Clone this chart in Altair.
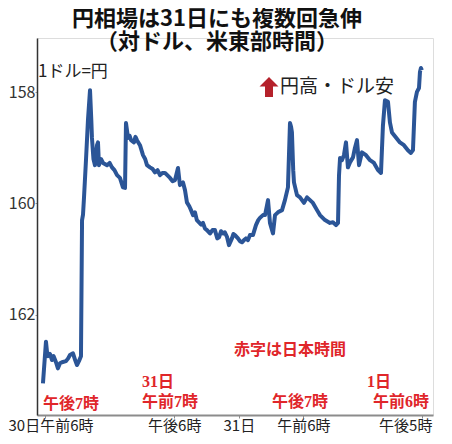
import altair as alt
import pandas as pd

# hours since 30日 0:00 (US Eastern) and USD/JPY rate
hours = [5.81, 6.09, 6.20, 6.28, 6.46, 6.65, 6.80, 7.02, 7.20, 7.39, 7.58, 7.95, 8.15, 8.32, 8.60, 8.80,
         8.97, 9.15, 9.34, 9.44, 9.53, 9.62, 9.81, 9.99, 10.18, 10.30, 10.36, 10.50, 10.64, 10.83, 10.92,
         11.01, 11.20, 11.39, 11.76, 12.00, 12.22, 12.45, 12.69, 12.96, 13.24, 13.43, 13.52, 13.71, 13.85,
         13.99, 14.26, 14.40, 14.54, 14.82, 15.10, 15.30, 15.47, 15.75, 16.00, 16.21, 16.45, 16.68, 16.90,
         17.14, 17.40, 17.61, 17.85, 18.07, 18.35, 18.53, 18.81, 19.00, 19.18, 19.40, 19.56, 19.75, 19.93,
         20.10, 20.30, 20.50, 20.67, 20.85, 21.04, 21.32, 21.55, 21.78, 22.00, 22.16, 22.35, 22.53, 22.70,
         22.90, 23.08, 23.36, 23.50, 23.64, 23.92, 24.10, 24.29, 24.48, 24.66, 24.85, 25.03, 25.31, 25.59,
         25.80, 25.96, 26.24, 26.43, 26.60, 26.71, 26.89, 27.17, 27.36, 27.63, 28.01, 28.28, 28.45, 28.56,
         28.75, 28.85, 28.93, 29.05, 29.12, 29.40, 29.68, 30.05, 30.33, 30.61, 30.88, 31.26, 31.53, 32.00,
         32.46, 32.74, 33.02, 33.21, 33.30, 33.40, 33.57, 33.76, 33.95, 34.13, 34.32, 34.60, 34.78, 34.97,
         35.16, 35.43, 35.81, 36.18, 36.55, 36.92, 37.20, 37.38, 37.57, 37.85, 38.03, 38.22, 38.59, 38.96,
         39.33, 39.70, 39.98, 40.17, 40.35, 40.54, 40.73, 40.82, 40.91, 41.00]
yen = [163.24, 162.49, 162.70, 162.75, 162.71, 162.82, 162.75, 162.86, 162.97, 162.88, 162.86, 162.84,
       162.79, 162.73, 162.70, 162.82, 162.91, 162.84, 162.75, 160.30, 160.20, 159.90, 159.20, 158.50,
       157.96, 158.50, 158.82, 159.20, 159.31, 158.95, 158.90, 159.31, 159.20, 159.27, 159.31, 159.27,
       159.35, 159.40, 159.49, 159.54, 159.71, 159.72, 158.55, 158.82, 158.78, 158.86, 158.90, 158.80,
       158.86, 158.95, 159.13, 159.20, 159.31, 159.35, 159.38, 159.44, 159.40, 159.49, 159.45, 159.45,
       159.50, 159.54, 159.60, 159.58, 159.36, 159.67, 159.62, 159.76, 159.98, 160.05, 160.12, 160.21,
       160.16, 160.30, 160.34, 160.38, 160.35, 160.45, 160.48, 160.54, 160.48, 160.48, 160.63, 160.61,
       160.50, 160.54, 160.52, 160.60, 160.75, 160.63, 160.55, 160.57, 160.63, 160.68, 160.70, 160.66,
       160.63, 160.66, 160.57, 160.57, 160.39, 160.30, 160.26, 160.21, 160.21, 160.05, 159.94, 160.35,
       160.54, 160.21, 160.16, 160.12, 159.94, 159.80, 159.71, 158.55, 158.62, 158.72, 159.40, 159.62,
       159.85, 159.89, 159.99, 159.89, 159.94, 159.99, 160.12, 160.21, 160.30, 160.35, 160.34, 160.39,
       160.35, 159.50, 159.18, 159.22, 159.13, 158.90, 159.35, 159.26, 159.17, 159.00, 158.86, 159.31,
       159.08, 159.13, 159.22, 159.27, 159.40, 159.45, 158.60, 158.14, 158.17, 158.54, 158.72, 158.81,
       158.90, 158.95, 159.04, 159.09, 159.04, 158.17, 157.99, 157.92, 157.63, 157.56, 157.60]

tick_hours = [6, 18, 24, 30, 41]
tick_labels = ["30日午前6時", "午後6時", "31日", "午前6時", "午後5時"]
y_ticks = [158, 160, 162]

title_lines = ["円相場は31日にも複数回急伸", "（対ドル、米東部時間）"]
unit_label = "1ドル=円"
legend_label = "円高・ドル安"
note_label = "赤字は日本時間"
jp_times = [["午後7時"], ["31日", "午前7時"], ["午後7時"], ["1日", "午前6時"]]

W, H = 396, 377
CJK = "Noto Sans CJK JP"
NARROW = "Liberation Sans Narrow, Noto Sans CJK JP"
RED_FONT = "Liberation Serif, Noto Sans CJK JP"
RED = "#e0262a"
BLUE = "#2b5597"

df = pd.DataFrame({"h": hours, "v": yen})

label_expr = ""
for hv, lab in zip(tick_hours, tick_labels):
    label_expr += f"datum.value == {hv} ? '{lab}' : "
label_expr += "''"

first_t, last_t = tick_hours[0], tick_hours[-1]
align_cond = {"condition": [{"test": f"datum.value == {first_t}", "value": "left"},
                            {"test": f"datum.value == {last_t}", "value": "right"}],
              "value": "center"}
offset_cond = {"condition": [{"test": f"datum.value == {first_t}", "value": -37},
                             {"test": f"datum.value == {last_t}", "value": 10}],
               "value": 0}

line = alt.Chart(df).mark_line(color=BLUE, strokeWidth=4, strokeJoin="round").encode(
    x=alt.X("h:Q", scale=alt.Scale(domain=[5.257, 42.03], nice=False, zero=False),
            axis=alt.Axis(values=tick_hours, labelExpr=label_expr, title=None, grid=False,
                          domainColor="#8c8c8c", domainWidth=2, tickColor="#8c8c8c", tickSize=3,
                          labelFont=NARROW, labelFontSize=15, labelColor="#222", labelPadding=0,
                          labelAlign=align_cond, labelOffset=offset_cond)),
    y=alt.Y("v:Q", scale=alt.Scale(domain=[157.02, 163.81], reverse=True, nice=False, zero=False),
            axis=alt.Axis(values=y_ticks, title=None, grid=False, domainColor="#333", domainWidth=1.5,
                          tickColor="#999", tickSize=2, labelFont=NARROW, labelFontSize=16,
                          labelColor="#333", labelPadding=0)),
)


def txt(s, x, y, size, color="#111", font=CJK, weight="normal", align="center",
        baseline="middle", **kw):
    return alt.Chart(pd.DataFrame({"t": [s]})).mark_text(
        fontSize=size, color=color, font=font, fontWeight=weight, align=align, baseline=baseline, **kw
    ).encode(text="t:N", x=alt.value(x), y=alt.value(y))


RB = dict(color=RED, font=RED_FONT, weight="bold", align="left")
layers = [line,
          txt("\n".join(title_lines), 180, -12, 22, weight="bold", baseline="alphabetic",
              lineBreak="\n", lineHeight=23),
          txt(unit_label, 1, 34, 17, color="#222", font=NARROW, align="left"),
          txt(legend_label, 243, 49, 19, color="#222", align="left"),
          txt(note_label, 253, 312, 16, color=RED, font=RED_FONT, weight="bold"),
          txt(jp_times[0][0], 6, 366, 16, **RB),
          txt(jp_times[1][0], 105, 344, 16, **RB),
          txt(jp_times[1][1], 105, 364, 16, **RB),
          txt(jp_times[2][0], 235, 364, 16, **RB),
          txt(jp_times[3][0], 330, 344, 16, **RB),
          txt(jp_times[3][1], 336, 364, 16, **RB),
          ]

arrow_path = "M0,-1L0.95,-0.05L0.4,-0.05L0.4,1L-0.4,1L-0.4,-0.05L-0.95,-0.05Z"
arrow = alt.Chart(pd.DataFrame({"a": [1]})).mark_point(
    shape=arrow_path, filled=True, size=400, color="#b5212b", opacity=1, strokeWidth=0
).encode(x=alt.value(232), y=alt.value(49))
layers.append(arrow)

chart = alt.layer(*layers).properties(
    width=W, height=H,
    autosize=alt.AutoSizeParams(type="none"),
    padding={"left": 29, "top": 30, "right": 11, "bottom": 21},
).configure_view(strokeWidth=0).configure(background="white")

chart.save("out.html", embed_options={"renderer": "svg", "actions": False})
